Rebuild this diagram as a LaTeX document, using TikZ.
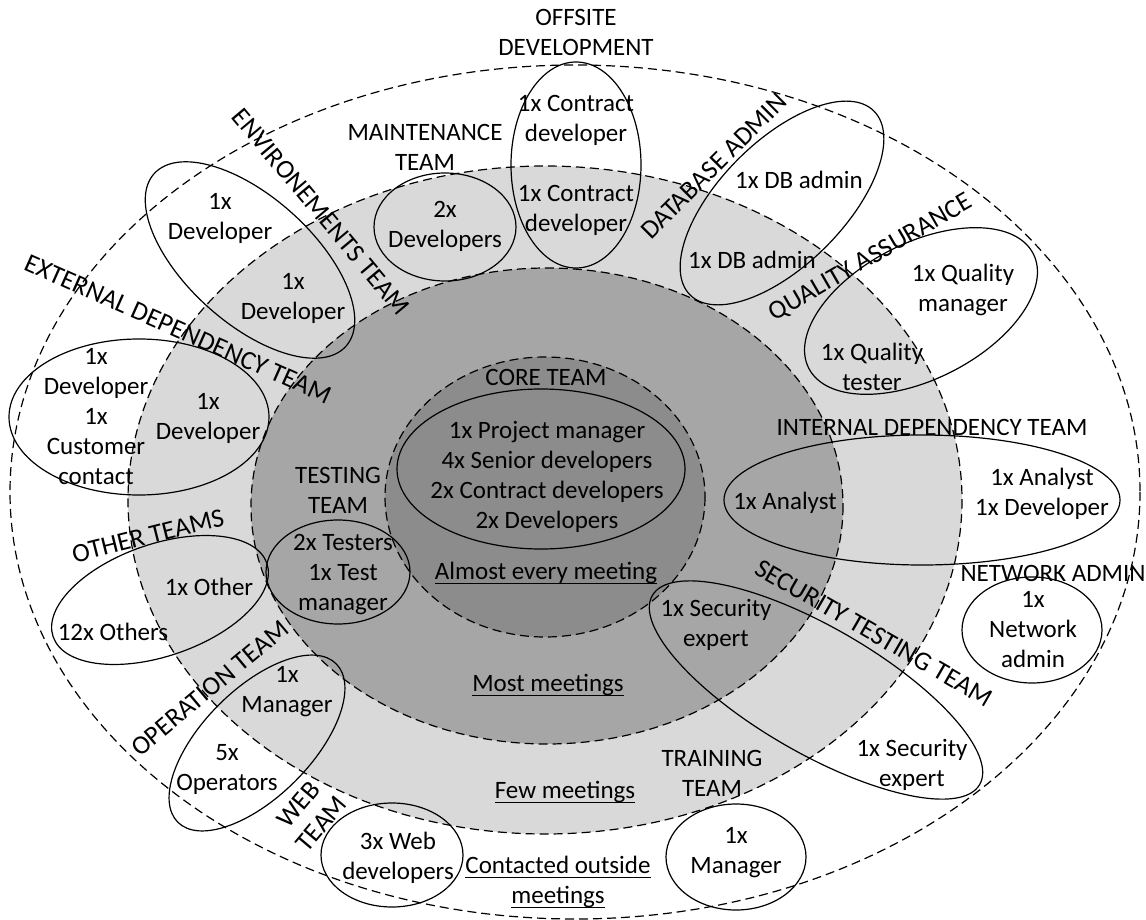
\documentclass[tikz,border=0pt]{standalone}
\usepackage{fontspec}
\setmainfont{Carlito}
\definecolor{ringlight}{HTML}{D9D9D9}
\definecolor{ringmid}{HTML}{A6A6A6}
\definecolor{ringcore}{HTML}{8C8C8C}
% underline at a fixed depth below the baseline
\newcommand\ulineit[1]{\setbox0=\hbox{#1}\rlap{\rule[-4.8pt]{\wd0}{1.4pt}}\box0}

\begin{document}
\begin{tikzpicture}[x=1pt,y=-1pt,
  zone/.style={draw=black, line width=1.2pt, dash pattern=on 9pt off 5pt},
  grp/.style={draw=black, line width=1.2pt},
  txt/.style={inner sep=0pt, align=center, font=\fontsize{25}{30}\selectfont},
  rlbl/.style={inner sep=0pt, align=center, font=\fontsize{26.5}{30}\selectfont}]

\fill[white] (0,0) rectangle (1146,920);
\useasboundingbox (0,0) rectangle (1146,920);

% meeting frequency rings
\draw[zone, fill=white]     (575,492) ellipse [x radius=565, y radius=427];
\draw[zone, fill=ringlight] (545,500) ellipse [x radius=417, y radius=334];
\draw[zone, fill=ringmid]   (547,506) ellipse [x radius=296, y radius=238];
\draw[zone, fill=ringcore]  (545,497) ellipse [x radius=160, y radius=140];

% team groupings
\draw[grp] (541,469) ellipse [x radius=144, y radius=80];
\draw[grp] (576,165) ellipse [x radius=65, y radius=103];
\draw[grp] (445,227) ellipse [x radius=71, y radius=54];
\draw[grp, rotate around={-42:(250,260)}] (250,260) ellipse [x radius=129, y radius=63];
\draw[grp] (139,417) ellipse [x radius=130, y radius=78];
\draw[grp, rotate around={45:(782,203)}] (782,203) ellipse [x radius=130, y radius=62];
\draw[grp, rotate around={27:(921,311)}] (921,311) ellipse [x radius=126, y radius=68];
\draw[grp] (922,500) ellipse [x radius=198, y radius=65];
\draw[grp] (1032,630) ellipse [x radius=70, y radius=53];
\draw[grp, rotate around={-30:(816,690)}] (816,690) ellipse [x radius=189, y radius=63];
\draw[grp, rotate around={19:(160,600)}] (160,600) ellipse [x radius=113, y radius=56];
\draw[grp, rotate around={45:(257,743)}] (257,743) ellipse [x radius=112, y radius=54];
\draw[grp] (338,572) ellipse [x radius=72, y radius=52];
\draw[grp] (392,855) ellipse [x radius=71, y radius=52];
\draw[grp] (736,857) ellipse [x radius=70, y radius=53];

% ring captions
\node[txt] (coretitle) at (546,377) {CORE TEAM};
\node[txt] (coremembers) at (547,477) {1x Project manager\\4x Senior developers\\2x Contract developers\\2x Developers};
\node[txt] (almost) at (546,573) {\ulineit{Almost every meeting}};
\node[txt] (most) at (548,685) {\ulineit{Most meetings}};
\node[txt] (few) at (565,792) {\ulineit{Few meetings}};
\node[txt] (outside) at (558,882) {\ulineit{Contacted outside}\\\ulineit{meetings}};

% team names
\node[txt] (offsitelbl) at (576,32) {OFFSITE\\DEVELOPMENT};
\node[txt] (maintlbl) at (425,147) {MAINTENANCE\\TEAM};
\node[txt] (testlbl) at (338,490) {TESTING\\TEAM};
\node[txt] (internlbl) at (932,427) {INTERNAL DEPENDENCY TEAM};
\node[txt] (netlbl) at (1053,573) {NETWORK ADMIN};
\node[txt] (trainlbl) at (712,773) {TRAINING\\TEAM};
\node[rlbl, rotate=-50] (envlbl) at (321,212) {ENVIRONEMENTS TEAM};
\node[rlbl, rotate=-24] (extlbl) at (178,329) {EXTERNAL DEPENDENCY TEAM};
\node[rlbl, rotate=45] (dblbl) at (714,166) {DATABASE ADMIN};
\node[rlbl, rotate=30] (qalbl) at (871,258) {QUALITY ASSURANCE};
\node[rlbl, rotate=-30] (seclbl) at (874,633) {SECURITY TESTING TEAM};
\node[rlbl, rotate=14] (otherlbl) at (148,536) {OTHER TEAMS};
\node[rlbl, rotate=40] (oplbl) at (210,688) {OPERATION TEAM};
\node[rlbl, rotate=50] (weblbl) at (310,814) {WEB\\TEAM};

% team members
\node[txt] (offsiteA) at (576,120) {1x Contract\\developer};
\node[txt] (offsiteB) at (576,210) {1x Contract\\developer};
\node[txt] (maintA) at (445,226) {2x\\Developers};
\node[txt] (envA) at (220,218) {1x\\Developer};
\node[txt] (envB) at (293,298) {1x\\Developer};
\node[txt] (extA) at (96,417) {1x\\Developer\\1x\\Customer\\contact};
\node[txt] (extB) at (208,418) {1x\\Developer};
\node[txt] (dbA) at (799,180) {1x DB admin};
\node[txt] (dbB) at (752,260) {1x DB admin};
\node[txt] (qaA) at (963,290) {1x Quality\\manager};
\node[txt] (qaB) at (872,367) {1x Quality\\tester};
\node[txt] (intA) at (785,503) {1x Analyst};
\node[txt] (intB) at (1042,494) {1x Analyst\\1x Developer};
\node[txt] (netA) at (1033,630) {1x\\Network\\admin};
\node[txt] (secA) at (716,625) {1x Security\\expert};
\node[txt] (secB) at (912,765) {1x Security\\expert};
\node[txt] (otherA) at (209,587) {1x Other};
\node[txt] (otherB) at (113,632) {12x Others};
\node[txt] (testA) at (343,575) {2x Testers\\1x Test\\manager};
\node[txt] (opA) at (287,692) {1x\\Manager};
\node[txt] (opB) at (227,769) {5x\\Operators};
\node[txt] (webA) at (398,858) {3x Web\\developers};
\node[txt] (trainA) at (736,853) {1x\\Manager};
\end{tikzpicture}
\end{document}
